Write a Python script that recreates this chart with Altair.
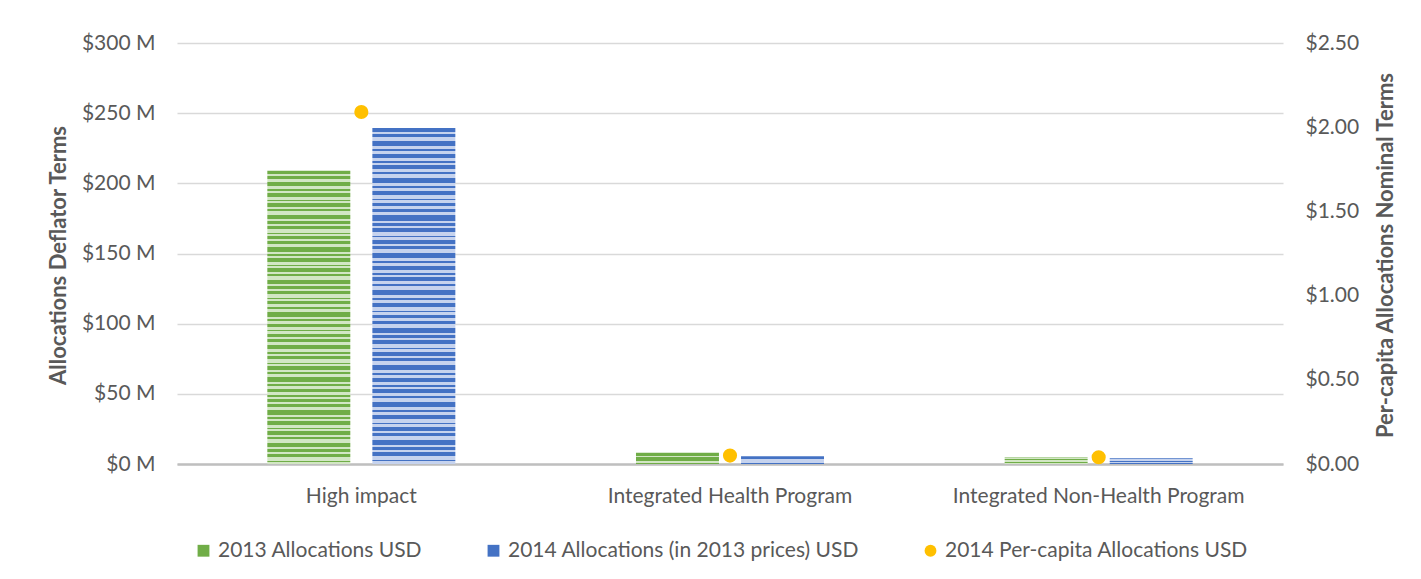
import altair as alt
import pandas as pd

categories = ["High impact", "Integrated Health Program", "Integrated Non-Health Program"]
series_names = ["2013 Allocations USD", "2014 Allocations (in 2013 prices) USD", "2014 Per-capita Allocations USD"]
alloc_2013_m = [209, 8, 4.6]
alloc_2014_m = [239.5, 5.6, 4.1]
percapita_2014 = [2.09, 0.05, 0.04]

FONT = "Lato"
TXT = "#595959"
GREEN_D, GREEN_L = "#70ad47", "#d2e6c4"
BLUE_D, BLUE_L = "#4472c4", "#c6d3ee"
GOLD = "#ffc000"
LFS = 21
TFS = 22

rows = []
for c, v in zip(categories, alloc_2013_m):
    rows.append({"category": c, "series": series_names[0], "value": v})
for c, v in zip(categories, alloc_2014_m):
    rows.append({"category": c, "series": series_names[1], "value": v})
bars_df = pd.DataFrame(rows)
pc_df = pd.DataFrame({"category": categories, "series": series_names[2], "value": percapita_2014})

STRIPES = [(3, 2), (2, 3), (4, 2), (2, 2), (3, 3), (1, 2)] * 9


def stripes(dark, light):
    total = float(sum(a + b for a, b in STRIPES))
    stops = []
    pos = 0.0
    for a, b in STRIPES:
        s0 = pos / total
        s1 = (pos + a) / total
        s2 = (pos + a + b) / total
        stops += [alt.GradientStop(offset=s0, color=dark), alt.GradientStop(offset=s1, color=dark),
                  alt.GradientStop(offset=s1, color=light), alt.GradientStop(offset=s2, color=light)]
        pos += a + b
    return alt.LinearGradient(gradient="linear", stops=stops, x1=0, x2=0, y1=0, y2=1)


x_enc = alt.X("category:N", sort=categories, title=None,
              scale=alt.Scale(paddingInner=0.49, paddingOuter=0.245),
              axis=alt.Axis(labelAngle=0, ticks=False, domainColor="#bfbfbf", domainWidth=2.5,
                            labelPadding=21, labelFontSize=LFS, labelColor=TXT, labelFont=FONT,
                            labelLimit=0))
xo_enc = alt.XOffset("series:N", sort=series_names[:2],
                     scale=alt.Scale(domain=series_names[:2], paddingInner=0.21, paddingOuter=0))
y_left = alt.Y("value:Q", title="Allocations Deflator Terms",
               scale=alt.Scale(domain=[0, 300]),
               axis=alt.Axis(orient="left", values=[0, 50, 100, 150, 200, 250, 300],
                             labelExpr="'$' + datum.value + ' M'", ticks=False, domain=False,
                             gridColor="#d9d9d9", gridWidth=1.5, labelPadding=22,
                             labelFontSize=LFS, labelColor=TXT, labelFont=FONT,
                             titleFontSize=TFS, titleFontWeight="bold", titleColor=TXT, titleFont=FONT,
                             titleAnchor="middle", titleAlign="center", titleBaseline="middle",
                             titleX=-119, titleY=212))

green = alt.Chart(bars_df).transform_filter(alt.datum.series == series_names[0]).mark_bar(
    fill=stripes(GREEN_D, GREEN_L)).encode(x=x_enc, xOffset=xo_enc, y=y_left)
blue = alt.Chart(bars_df).transform_filter(alt.datum.series == series_names[1]).mark_bar(
    fill=stripes(BLUE_D, BLUE_L)).encode(x=x_enc, xOffset=xo_enc, y=y_left)
bars = alt.layer(green, blue)

leg = dict(title=None, orient="none", legendX=16, legendY=497,
           direction="horizontal", symbolSize=140, labelFontSize=LFS,
           labelColor=TXT, labelFont=FONT, columnPadding=60, labelLimit=0,
           labelOffset=4, symbolStrokeWidth=0)

points = alt.Chart(pc_df).mark_point(filled=True, size=200, opacity=1).encode(
    x=alt.X("category:N", sort=categories),
    y=alt.Y("value:Q", title="Per-capita Allocations Nominal Terms",
            scale=alt.Scale(domain=[0, 2.5]),
            axis=alt.Axis(orient="right", values=[0, 0.5, 1, 1.5, 2, 2.5], format="$.2f",
                          ticks=False, domain=False, grid=False, labelPadding=22,
                          labelFontSize=LFS, labelColor=TXT, labelFont=FONT,
                          titleFontSize=TFS, titleFontWeight="bold", titleColor=TXT, titleFont=FONT,
                          titleAngle=270, titleAlign="center", titleBaseline="middle",
                          titleX=102, titleY=212)),
    color=alt.Color("series:N", scale=alt.Scale(domain=series_names, range=[GREEN_D, BLUE_D, GOLD]),
                    legend=alt.Legend(**leg)),
    shape=alt.Shape("series:N", scale=alt.Scale(domain=series_names, range=["square", "square", "circle"]),
                    legend=alt.Legend(**leg)),
)

chart = alt.layer(bars, points).resolve_scale(y="independent").properties(
    width=1106, height=421,
    autosize=alt.AutoSizeParams(type="none"),
    padding={"left": 169, "top": 35, "right": 130, "bottom": 100},
).configure_view(stroke=None)

chart.save("out.html", embed_options={"renderer": "svg", "actions": False})
